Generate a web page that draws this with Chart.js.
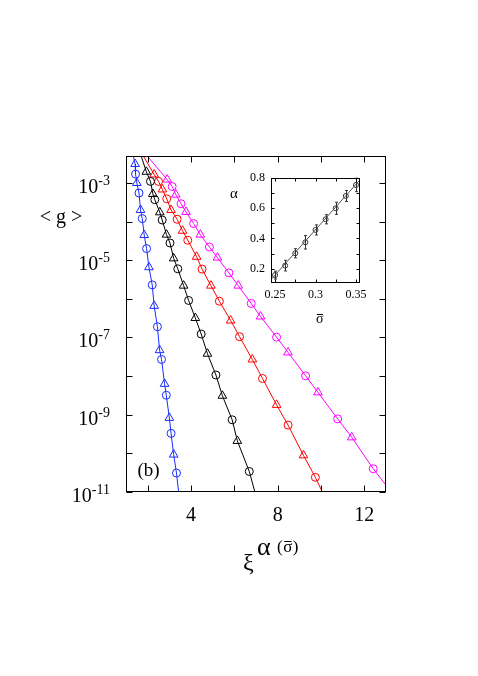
<!DOCTYPE html>
<html>
<head>
<meta charset="utf-8">
<script src="https://cdn.jsdelivr.net/npm/chart.js@4.4.1/dist/chart.umd.min.js"></script>
<style>
  body{margin:0;background:#fff;}
  #wrap{position:relative;width:478px;height:676px;}
  canvas{position:absolute;left:0;top:0;}
</style>
</head>
<body>
<div id="wrap">
<canvas id="main" width="478" height="676"></canvas>
<canvas id="inset" width="478" height="676"></canvas>
</div>
<script>
/*======== DATOS ========*/
const blueTriX = [1.42, 1.50, 1.67, 1.84, 2.06, 2.30, 2.55, 2.78, 3.00, 3.20];
const blueTriY = [3.1e-3, 1.0e-3, 2.0e-4, 4.5e-5, 6.6e-6, 6.6e-7, 4.7e-8, 6.3e-9, 8.3e-10, 9.3e-11];
const blueCircX = [1.44, 1.60, 1.75, 1.95, 2.21, 2.45, 2.64, 2.86, 3.08, 3.33];
const blueCircY = [1.7e-3, 5.5e-4, 1.2e-4, 2.0e-5, 2.3e-6, 1.9e-7, 2.7e-8, 3.2e-9, 3.3e-10, 3.1e-11];
const blueEnds = [[1.34, 5e-3], [3.43, 1e-11]];

const blackTriX = [1.94, 2.24, 2.56, 2.87, 3.20, 3.66, 4.20, 4.76, 5.45, 6.14];
const blackTriY = [1.95e-3, 5.2e-4, 1.74e-4, 4.6e-5, 1.12e-5, 2.2e-6, 3.2e-7, 3.8e-8, 3.1e-9, 2.1e-10];
const blackCircX = [2.13, 2.33, 2.67, 3.03, 3.39, 3.89, 4.47, 5.15, 5.90, 6.69];
const blackCircY = [1.1e-3, 3.7e-4, 1.1e-4, 2.8e-5, 6.0e-6, 9.1e-7, 1.23e-7, 1.07e-8, 7.4e-10, 3.4e-11];
const blackEnds = [[1.70, 5e-3], [6.95, 1e-11]];

const redTriX = [2.30, 2.68, 3.08, 3.61, 4.26, 4.92, 5.83, 6.83, 7.95, 9.19];
const redTriY = [1.66e-3, 6.8e-4, 2.0e-4, 5.8e-5, 1.23e-5, 2.2e-6, 2.75e-7, 2.7e-8, 1.8e-9, 8.9e-11];
const redCircX = [2.50, 2.88, 3.36, 3.85, 4.51, 5.31, 6.24, 7.30, 8.48, 9.74];
const redCircY = [1.1e-3, 3.9e-4, 1.15e-4, 3.3e-5, 5.9e-6, 8.7e-7, 1.05e-7, 8.7e-9, 5.4e-10, 2.4e-11];
const redEnds = [[1.80, 5e-3], [10.06, 1e-11]];

const magTriX = [2.90, 3.30, 3.77, 4.43, 5.22, 6.18, 7.21, 8.48, 9.86, 11.42];
const magTriY = [1.23e-3, 5.0e-4, 1.78e-4, 4.6e-5, 1.17e-5, 2.2e-6, 3.5e-7, 4.1e-8, 3.8e-9, 2.6e-10];
const magCircX = [3.13, 3.54, 4.12, 4.85, 5.75, 6.78, 7.95, 9.29, 10.77, 12.41];
const magCircY = [8.1e-4, 2.9e-4, 8.9e-5, 2.2e-5, 4.7e-6, 7.6e-7, 1.02e-7, 1.02e-8, 7.8e-10, 4.0e-11];
const magEnds = [[1.98, 5e-3], [13.0, 1.5e-11]];

const xTicks = [2, 4, 6, 8, 10, 12];
const xLabels = [4, 8, 12];
const yDecades = [-11, -10, -9, -8, -7, -6, -5, -4, -3];
const yLabels = [-11, -9, -7, -5, -3];

// inset
const sigma = [0.25, 0.2625, 0.275, 0.2875, 0.30, 0.3125, 0.325, 0.3375, 0.35];
const alpha = [0.16, 0.222, 0.303, 0.375, 0.456, 0.526, 0.598, 0.679, 0.751];
const alphaErr = [0.026, 0.035, 0.03, 0.044, 0.033, 0.03, 0.04, 0.036, 0.044];
const fitLine = [[0.245, 0.13], [0.355, 0.785]];
const insetXTicks = [0.25, 0.275, 0.3, 0.325, 0.35];
const insetXLabels = ['0.25', '0.3', '0.35'];
const insetXLabelVals = [0.25, 0.3, 0.35];
const insetYTicks = [0.2, 0.3, 0.4, 0.5, 0.6, 0.7];
const insetYLabels = [0.2, 0.4, 0.6, 0.8];

const SERIF = '"Liberation Serif", "DejaVu Serif", serif';

/*======== HELPERS ========*/
const pts = (xs, ys) => xs.map((v, i) => ({x: v, y: ys[i]}));
function curva(ends, a, b){
	const p = pts(a[0], a[1]).concat(pts(b[0], b[1]));
	p.sort((m, n) => m.x - n.x);
	return [{x: ends[0][0], y: ends[0][1]}].concat(p, [{x: ends[1][0], y: ends[1][1]}]);
}
function serie(color, ends, tx, ty, cx, cy){
	return [
		{type: 'line', data: curva(ends, [tx, ty], [cx, cy]), borderColor: color, borderWidth: 1,
		 pointRadius: 0, tension: 0, fill: false},
		{data: pts(tx, ty), pointStyle: 'triangle', pointRadius: 5, borderColor: color,
		 backgroundColor: 'rgba(0,0,0,0)', borderWidth: 1},
		{data: pts(cx, cy), pointStyle: 'circle', pointRadius: 4, borderColor: color,
		 backgroundColor: 'rgba(0,0,0,0)', borderWidth: 1}
	];
}
// sigma con barra encima (sin caracter combinado)
function sigmaBar(ctx, x, base, size){
	ctx.font = size + 'px ' + SERIF;
	ctx.textAlign = 'left';
	const w = ctx.measureText('σ').width;
	ctx.fillText('σ', x, base);
	ctx.beginPath();
	const yb = Math.round(base - size * 0.62) + 0.5;
	ctx.moveTo(x + w * 0.12, yb);
	ctx.lineTo(x + w * 0.92, yb);
	ctx.lineWidth = 1;
	ctx.strokeStyle = '#000';
	ctx.stroke();
	return w;
}

/*======== EJES PRINCIPALES ========*/
const mainAxes = {
	id: 'mainAxes',
	afterDraw(chart){
		const {ctx, chartArea: a, scales: {x, y}} = chart;
		ctx.save();
		ctx.strokeStyle = '#000';
		ctx.lineWidth = 1;
		const L = Math.round(a.left) + 0.5, R = Math.round(a.right) - 0.5;
		const T = Math.round(a.top) + 0.5, B = Math.round(a.bottom) - 0.5;
		ctx.strokeRect(L, T, R - L, B - T);
		ctx.beginPath();
		xTicks.forEach(v => {
			const px = Math.round(x.getPixelForValue(v)) + 0.5;
			ctx.moveTo(px, B); ctx.lineTo(px, B - 6);
			ctx.moveTo(px, T); ctx.lineTo(px, T + 6);
		});
		yDecades.forEach(d => {
			const py = Math.round(y.getPixelForValue(Math.pow(10, d))) + 0.5;
			ctx.moveTo(L, py); ctx.lineTo(L + 6, py);
			ctx.moveTo(R, py); ctx.lineTo(R - 6, py);
		});
		ctx.stroke();

		ctx.fillStyle = '#000';
		ctx.textBaseline = 'alphabetic';
		yLabels.forEach(d => {
			const py = y.getPixelForValue(Math.pow(10, d));
			const exp = '-' + Math.abs(d);
			ctx.font = '14px ' + SERIF;
			ctx.textAlign = 'right';
			const ew = ctx.measureText(exp).width;
			ctx.fillText(exp, 110, py + 2);
			ctx.font = '20px ' + SERIF;
			ctx.fillText('10', 110 - ew, py + 10);
		});
		ctx.font = '20px ' + SERIF;
		ctx.textAlign = 'center';
		xLabels.forEach(v => {
			ctx.fillText(String(v), x.getPixelForValue(v), 521);
		});

		// titulos
		ctx.textAlign = 'center';
		ctx.fillText('< g >', 61, 223);
		ctx.font = '19px ' + SERIF;
		ctx.fillText('(b)', 148.5, 476);
		ctx.textAlign = 'left';
		ctx.font = '24px ' + SERIF;
		ctx.fillText('ξ', 243, 570);
		ctx.font = '26px ' + SERIF;
		ctx.fillText('α', 257, 555);
		ctx.font = '17px ' + SERIF;
		let cx = 277;
		ctx.fillText('(', cx, 552);
		cx += ctx.measureText('(').width + 0.5;
		cx += sigmaBar(ctx, cx, 552, 17) + 0.5;
		ctx.font = '17px ' + SERIF;
		ctx.fillText(')', cx, 552);
		ctx.restore();
	}
};

new Chart(document.getElementById('main'), {
	type: 'scatter',
	data: {
		datasets: [].concat(
			serie('#1a2cff', blueEnds, blueTriX, blueTriY, blueCircX, blueCircY),
			serie('#000000', blackEnds, blackTriX, blackTriY, blackCircX, blackCircY),
			serie('#ff0000', redEnds, redTriX, redTriY, redCircX, redCircY),
			serie('#ff00ff', magEnds, magTriX, magTriY, magCircX, magCircY)
		)
	},
	options: {
		responsive: false,
		devicePixelRatio: 1,
		animation: false,
		layout: {padding: {left: 126, top: 156, right: 92, bottom: 184}},
		plugins: {legend: {display: false}, tooltip: {enabled: false}},
		scales: {
			x: {type: 'linear', min: 1, max: 13, display: false},
			y: {type: 'logarithmic', min: 1e-11, max: 5e-3, display: false}
		}
	},
	plugins: [mainAxes]
});

/*======== INSET ========*/
const insetPlugin = {
	id: 'insetPlugin',
	beforeDatasetsDraw(chart){
		const {ctx, chartArea: a} = chart;
		ctx.save();
		ctx.fillStyle = '#fff';
		ctx.fillRect(a.left, a.top, a.right - a.left, a.bottom - a.top);
		ctx.restore();
	},
	afterDraw(chart){
		const {ctx, chartArea: a, scales: {x, y}} = chart;
		ctx.save();
		// barras de error
		ctx.strokeStyle = '#333';
		ctx.lineWidth = 1;
		ctx.beginPath();
		sigma.forEach((s, i) => {
			const px = Math.round(x.getPixelForValue(s)) + 0.5;
			const y1 = y.getPixelForValue(alpha[i] - alphaErr[i]);
			const y2 = y.getPixelForValue(alpha[i] + alphaErr[i]);
			ctx.moveTo(px, y1); ctx.lineTo(px, y2);
			ctx.moveTo(px - 1.5, y1); ctx.lineTo(px + 1.5, y1);
			ctx.moveTo(px - 1.5, y2); ctx.lineTo(px + 1.5, y2);
		});
		ctx.stroke();

		ctx.strokeStyle = '#000';
		const L = Math.round(a.left) + 0.5, R = Math.round(a.right) - 0.5;
		const T = Math.round(a.top) + 0.5, B = Math.round(a.bottom) - 0.5;
		ctx.strokeRect(L, T, R - L, B - T);
		ctx.beginPath();
		insetXTicks.forEach(v => {
			const px = Math.round(x.getPixelForValue(v)) + 0.5;
			ctx.moveTo(px, B); ctx.lineTo(px, B - 3);
			ctx.moveTo(px, T); ctx.lineTo(px, T + 3);
		});
		insetYTicks.forEach(v => {
			const py = Math.round(y.getPixelForValue(v)) + 0.5;
			ctx.moveTo(L, py); ctx.lineTo(L + 3, py);
			ctx.moveTo(R, py); ctx.lineTo(R - 3, py);
		});
		ctx.stroke();

		ctx.fillStyle = '#000';
		ctx.font = '12px ' + SERIF;
		ctx.textAlign = 'right';
		ctx.textBaseline = 'middle';
		insetYLabels.forEach(v => ctx.fillText(v.toFixed(1), 265, y.getPixelForValue(v)));
		ctx.textAlign = 'center';
		ctx.textBaseline = 'top';
		insetXLabelVals.forEach((v, i) => ctx.fillText(insetXLabels[i], x.getPixelForValue(v), 289));

		ctx.textBaseline = 'alphabetic';
		ctx.textAlign = 'center';
		ctx.font = '15px ' + SERIF;
		ctx.fillText('α', 234, 197.5);
		sigmaBar(ctx, 316, 323, 14);
		ctx.restore();
	}
};

new Chart(document.getElementById('inset'), {
	type: 'scatter',
	data: {
		datasets: [
			{type: 'line', data: fitLine.map(p => ({x: p[0], y: p[1]})), borderColor: '#555',
			 borderWidth: 1, pointRadius: 0, fill: false},
			{data: pts(sigma, alpha), pointStyle: 'circle', pointRadius: 2.5, borderColor: '#333',
			 backgroundColor: 'rgba(0,0,0,0)', borderWidth: 1}
		]
	},
	options: {
		responsive: false,
		devicePixelRatio: 1,
		animation: false,
		layout: {padding: {left: 271, top: 177.5, right: 118, bottom: 393.3}},
		plugins: {legend: {display: false}, tooltip: {enabled: false}},
		scales: {
			x: {type: 'linear', min: 0.245, max: 0.355, display: false},
			y: {type: 'linear', min: 0.11, max: 0.8, display: false}
		}
	},
	plugins: [insetPlugin]
});
</script>
</body>
</html>
